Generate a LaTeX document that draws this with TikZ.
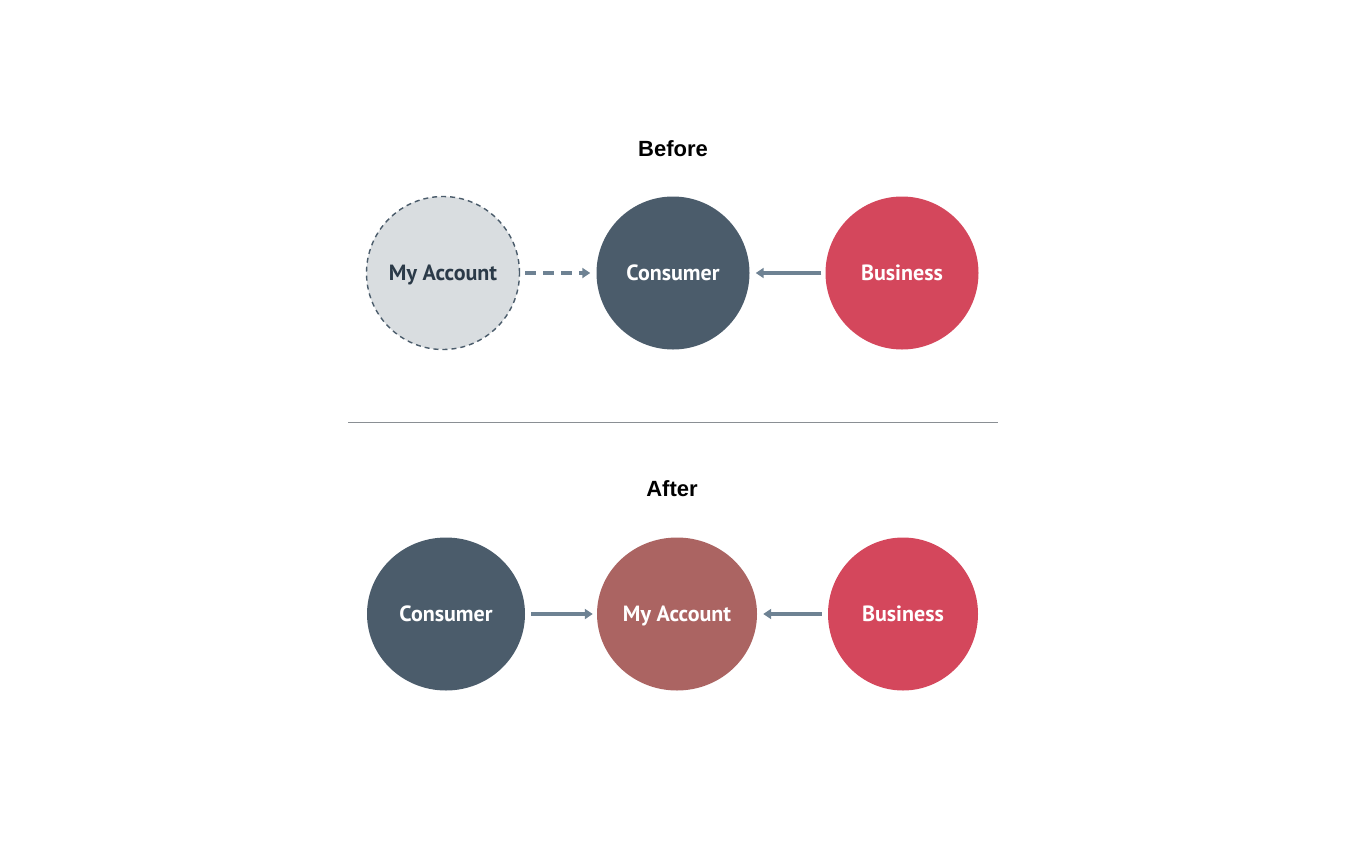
\documentclass[tikz,border=0pt]{standalone}
\usepackage{fontspec}
\setmainfont{PT Sans}
\newfontfamily\titlefont{Liberation Sans}
\usetikzlibrary{arrows.meta,shapes.geometric}
\definecolor{slate}{HTML}{4B5C6B}
\definecolor{rosered}{HTML}{D4475C}
\definecolor{mauve}{HTML}{AB6462}
\definecolor{ghost}{HTML}{D9DDE0}
\definecolor{ghosttext}{HTML}{2B3A48}
\definecolor{arrowc}{HTML}{6E8293}
\definecolor{rule}{HTML}{8A8F94}
\tikzset{
  bubble/.style={ellipse, minimum width=#1, minimum height=153pt, inner sep=0pt, text depth=0pt, text=white, font=\fontsize{22}{26}\selectfont\bfseries},
  bubble/.default=153pt,
  title/.style={font=\titlefont\fontsize{22}{26}\selectfont\bfseries, text=black},
  conn/.style={draw=arrowc, line width=3.2pt, -{Triangle[length=8pt,width=10pt]}},
}
\begin{document}
\begin{tikzpicture}[x=1pt,y=-1pt]
\useasboundingbox (0,0) rectangle (1350,844);
\node[title] (tb) at (673,149) {Before};
\node[bubble, fill=ghost, draw=slate, dashed, line width=1.4pt, dash pattern=on 5pt off 4pt, text=ghosttext] (ma1) at (443,273) {My Account};
\node[bubble, fill=slate] (co1) at (673,273) {Consumer};
\node[bubble, fill=rosered] (bu1) at (902,273) {Business};
\draw[conn, dash pattern=on 11pt off 7pt, shorten <=5pt, shorten >=6pt] (ma1) -- (co1);
\draw[conn, shorten <=4pt, shorten >=6pt] (bu1) -- (co1);
\draw[rule, line width=1pt] (348,422) coordinate (l1) -- (998,422) coordinate (l2);
\node[title] (ta) at (672,489) {After};
\node[bubble=158pt, fill=slate] (co2) at (446,614) {Consumer};
\node[bubble=160pt, fill=mauve] (ma2) at (677,614) {My Account};
\node[bubble=150pt, fill=rosered] (bu2) at (903,614) {Business};
\draw[conn, shorten <=6pt, shorten >=4pt] (co2) -- (ma2);
\draw[conn, shorten <=6pt, shorten >=6pt] (bu2) -- (ma2);
\end{tikzpicture}
\end{document}
